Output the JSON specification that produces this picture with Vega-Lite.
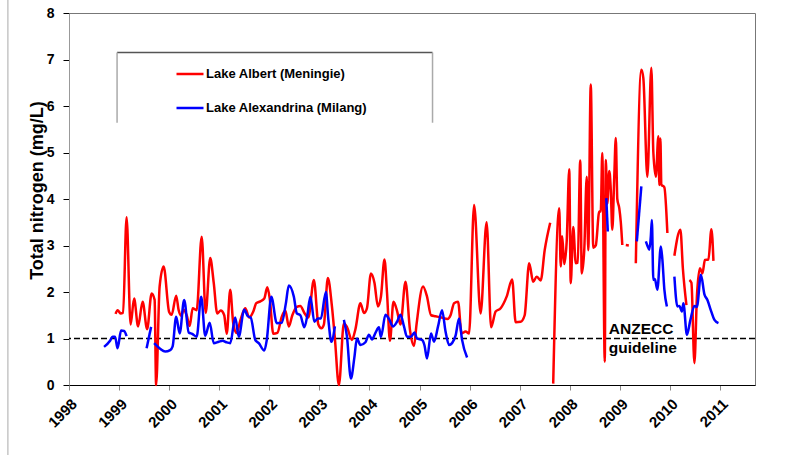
{
  "$schema": "https://vega.github.io/schema/vega-lite/v6.json",
  "width": 686,
  "height": 372,
  "autosize": {"type": "none"},
  "padding": {"left": 69, "top": 13, "right": 52, "bottom": 70},
  "background": "white",
  "config": {
    "view": {"stroke": "#777", "strokeWidth": 1},
    "font": "Liberation Sans"
  },
  "datasets": {
    "albert": [
      {"g":"r1","t":1998.93,"v":1.53},{"g":"r1","t":1998.97,"v":1.61},{"g":"r1","t":1999.03,"v":1.54},{"g":"r1","t":1999.08,"v":1.55},{"g":"r1","t":1999.15,"v":3.61},{"g":"r1","t":1999.23,"v":1.30},{"g":"r1","t":1999.30,"v":1.86},{"g":"r1","t":1999.38,"v":1.26},{"g":"r1","t":1999.47,"v":1.79},{"g":"r1","t":1999.56,"v":1.20},{"g":"r1","t":1999.65,"v":1.97},{"g":"r1","t":1999.71,"v":1.83},{"g":"r1","t":1999.74,"v":0},{"g":"r1","t":1999.81,"v":2.12},{"g":"r1","t":1999.89,"v":2.55},{"g":"r1","t":2000.00,"v":1.57},{"g":"r1","t":2000.05,"v":1.51},{"g":"r1","t":2000.14,"v":1.92},{"g":"r1","t":2000.19,"v":1.61},{"g":"r1","t":2000.24,"v":1.49},{"g":"r1","t":2000.29,"v":1.62},{"g":"r1","t":2000.35,"v":1.50},{"g":"r1","t":2000.41,"v":1.27},{"g":"r1","t":2000.47,"v":1.65},{"g":"r1","t":2000.55,"v":1.61},{"g":"r1","t":2000.65,"v":3.19},{"g":"r1","t":2000.73,"v":1.55},{"g":"r1","t":2000.82,"v":2.73},{"g":"r1","t":2000.89,"v":2.20},{"g":"r1","t":2000.96,"v":1.54},{"g":"r1","t":2001.03,"v":1.60},{"g":"r1","t":2001.10,"v":1.50},{"g":"r1","t":2001.15,"v":1.10},{"g":"r1","t":2001.22,"v":2.05},{"g":"r1","t":2001.28,"v":1.33},{"g":"r1","t":2001.35,"v":1.12},{"g":"r1","t":2001.42,"v":1.38},{"g":"r1","t":2001.52,"v":1.65},{"g":"r1","t":2001.60,"v":1.45},{"g":"r1","t":2001.68,"v":1.58},{"g":"r1","t":2001.74,"v":1.76},{"g":"r1","t":2001.82,"v":1.80},{"g":"r1","t":2001.90,"v":1.86},{"g":"r1","t":2001.96,"v":2.10},{"g":"r1","t":2002.01,"v":1.85},{"g":"r1","t":2002.08,"v":1.10},{"g":"r1","t":2002.16,"v":1.12},{"g":"r1","t":2002.25,"v":1.47},{"g":"r1","t":2002.32,"v":1.60},{"g":"r1","t":2002.39,"v":1.26},{"g":"r1","t":2002.46,"v":1.50},{"g":"r1","t":2002.55,"v":1.68},{"g":"r1","t":2002.62,"v":1.70},{"g":"r1","t":2002.70,"v":1.55},{"g":"r1","t":2002.78,"v":1.45},{"g":"r1","t":2002.89,"v":2.26},{"g":"r1","t":2002.98,"v":1.30},{"g":"r1","t":2003.04,"v":1.22},{"g":"r1","t":2003.09,"v":1.30},{"g":"r1","t":2003.17,"v":2.30},{"g":"r1","t":2003.25,"v":1.70},{"g":"r1","t":2003.31,"v":1.00},{"g":"r1","t":2003.39,"v":0},{"g":"r1","t":2003.49,"v":1.33},{"g":"r1","t":2003.55,"v":1.25},{"g":"r1","t":2003.65,"v":0.97},{"g":"r1","t":2003.72,"v":1.20},{"g":"r1","t":2003.82,"v":1.76},{"g":"r1","t":2003.89,"v":1.55},{"g":"r1","t":2003.95,"v":1.65},{"g":"r1","t":2004.03,"v":2.40},{"g":"r1","t":2004.10,"v":2.20},{"g":"r1","t":2004.17,"v":1.69},{"g":"r1","t":2004.23,"v":1.90},{"g":"r1","t":2004.30,"v":2.70},{"g":"r1","t":2004.35,"v":2.00},{"g":"r1","t":2004.41,"v":0.95},{"g":"r1","t":2004.48,"v":1.79},{"g":"r1","t":2004.55,"v":1.60},{"g":"r1","t":2004.62,"v":1.30},{"g":"r1","t":2004.72,"v":2.22},{"g":"r1","t":2004.81,"v":1.18},{"g":"r1","t":2004.89,"v":0.84},{"g":"r1","t":2004.94,"v":1.30},{"g":"r1","t":2005.07,"v":2.12},{"g":"r1","t":2005.15,"v":1.90},{"g":"r1","t":2005.23,"v":1.50},{"g":"r1","t":2005.32,"v":1.48},{"g":"r1","t":2005.44,"v":1.45},{"g":"r1","t":2005.56,"v":1.42},{"g":"r1","t":2005.62,"v":1.50},{"g":"r1","t":2005.69,"v":1.76},{"g":"r1","t":2005.77,"v":1.79},{"g":"r1","t":2005.84,"v":1.11},{"g":"r1","t":2005.92,"v":1.15},{"g":"r1","t":2005.99,"v":1.11},{"g":"r1","t":2006.09,"v":3.87},{"g":"r1","t":2006.22,"v":1.54},{"g":"r1","t":2006.34,"v":3.50},{"g":"r1","t":2006.43,"v":1.24},{"g":"r1","t":2006.52,"v":1.58},{"g":"r1","t":2006.62,"v":1.65},{"g":"r1","t":2006.74,"v":1.90},{"g":"r1","t":2006.85,"v":2.27},{"g":"r1","t":2006.92,"v":1.35},{"g":"r1","t":2007.02,"v":1.36},{"g":"r1","t":2007.10,"v":1.50},{"g":"r1","t":2007.19,"v":2.62},{"g":"r1","t":2007.27,"v":2.22},{"g":"r1","t":2007.34,"v":2.33},{"g":"r1","t":2007.42,"v":2.25},{"g":"r1","t":2007.50,"v":2.90},{"g":"r1","t":2007.61,"v":3.49},
      {"g":"r2","t":2007.67,"v":0.03},{"g":"r2","t":2007.79,"v":3.80},{"g":"r2","t":2007.82,"v":2.55},{"g":"r2","t":2007.85,"v":3.20},{"g":"r2","t":2007.89,"v":2.60},{"g":"r2","t":2007.94,"v":3.10},{"g":"r2","t":2007.99,"v":4.64},{"g":"r2","t":2008.02,"v":2.19},{"g":"r2","t":2008.07,"v":3.40},{"g":"r2","t":2008.12,"v":2.62},{"g":"r2","t":2008.16,"v":2.63},{"g":"r2","t":2008.21,"v":4.83},{"g":"r2","t":2008.24,"v":2.40},{"g":"r2","t":2008.29,"v":2.90},{"g":"r2","t":2008.34,"v":4.48},{"g":"r2","t":2008.37,"v":2.90},{"g":"r2","t":2008.42,"v":6.46},{"g":"r2","t":2008.47,"v":2.95},{"g":"r2","t":2008.52,"v":3.00},{"g":"r2","t":2008.59,"v":3.73},{"g":"r2","t":2008.62,"v":3.73},{"g":"r2","t":2008.65,"v":4.99},{"g":"r2","t":2008.70,"v":0.50},{"g":"r2","t":2008.72,"v":4.84},{"g":"r2","t":2008.75,"v":3.90},{"g":"r2","t":2008.79,"v":4.60},{"g":"r2","t":2008.82,"v":4.20},{"g":"r2","t":2008.85,"v":3.34},{"g":"r2","t":2008.89,"v":4.50},{"g":"r2","t":2008.92,"v":5.31},{"g":"r2","t":2008.95,"v":4.00},{"g":"r2","t":2008.99,"v":3.80},{"g":"r2","t":2009.02,"v":3.50},{"g":"r2","t":2009.05,"v":3.01},
      {"g":"r3","t":2009.12,"v":3.01},{"g":"r3","t":2009.18,"v":3.00},
      {"g":"r4","t":2009.32,"v":2.62},{"g":"r4","t":2009.43,"v":6.78},{"g":"r4","t":2009.47,"v":6.60},{"g":"r4","t":2009.55,"v":4.48},{"g":"r4","t":2009.63,"v":6.82},{"g":"r4","t":2009.67,"v":5.00},{"g":"r4","t":2009.72,"v":4.48},{"g":"r4","t":2009.77,"v":5.35},{"g":"r4","t":2009.79,"v":4.30},{"g":"r4","t":2009.81,"v":5.30},{"g":"r4","t":2009.83,"v":4.31},{"g":"r4","t":2009.89,"v":4.25},{"g":"r4","t":2009.95,"v":3.27},
      {"g":"r5","t":2010.09,"v":2.78},{"g":"r5","t":2010.21,"v":3.34},{"g":"r5","t":2010.26,"v":2.50},{"g":"r5","t":2010.33,"v":1.72},
      {"g":"r6","t":2010.39,"v":2.26},{"g":"r6","t":2010.43,"v":2.20},{"g":"r6","t":2010.49,"v":0.47},{"g":"r6","t":2010.54,"v":1.90},{"g":"r6","t":2010.60,"v":2.51},{"g":"r6","t":2010.65,"v":2.40},{"g":"r6","t":2010.70,"v":2.69},{"g":"r6","t":2010.77,"v":2.70},{"g":"r6","t":2010.83,"v":3.35},{"g":"r6","t":2010.87,"v":2.67}
    ],
    "alexandrina": [
      {"g":"b1","t":1998.70,"v":0.82},{"g":"b1","t":1998.82,"v":0.95},{"g":"b1","t":1998.87,"v":1.04},{"g":"b1","t":1998.92,"v":1.04},{"g":"b1","t":1998.97,"v":0.79},{"g":"b1","t":1999.04,"v":1.17},{"g":"b1","t":1999.10,"v":1.16},{"g":"b1","t":1999.15,"v":1.05},
      {"g":"b2","t":1999.55,"v":0.79},{"g":"b2","t":1999.64,"v":1.25},
      {"g":"b3","t":1999.70,"v":0.90},{"g":"b3","t":1999.82,"v":0.78},{"g":"b3","t":1999.92,"v":0.72},{"g":"b3","t":2000.02,"v":0.75},{"g":"b3","t":2000.07,"v":0.83},{"g":"b3","t":2000.14,"v":1.47},{"g":"b3","t":2000.21,"v":1.11},{"g":"b3","t":2000.30,"v":1.83},{"g":"b3","t":2000.39,"v":1.13},{"g":"b3","t":2000.46,"v":1.10},{"g":"b3","t":2000.55,"v":1.04},{"g":"b3","t":2000.64,"v":1.90},{"g":"b3","t":2000.72,"v":1.06},{"g":"b3","t":2000.81,"v":1.34},{"g":"b3","t":2000.89,"v":0.90},{"g":"b3","t":2000.99,"v":0.93},{"g":"b3","t":2001.07,"v":0.95},{"g":"b3","t":2001.14,"v":0.92},{"g":"b3","t":2001.22,"v":0.90},{"g":"b3","t":2001.32,"v":1.45},{"g":"b3","t":2001.39,"v":1.04},{"g":"b3","t":2001.50,"v":1.62},{"g":"b3","t":2001.57,"v":1.48},{"g":"b3","t":2001.63,"v":1.45},{"g":"b3","t":2001.72,"v":0.97},{"g":"b3","t":2001.79,"v":0.90},{"g":"b3","t":2001.90,"v":0.74},{"g":"b3","t":2001.95,"v":0.97},{"g":"b3","t":2002.04,"v":1.90},{"g":"b3","t":2002.15,"v":1.33},{"g":"b3","t":2002.25,"v":1.34},{"g":"b3","t":2002.33,"v":1.75},{"g":"b3","t":2002.39,"v":2.14},{"g":"b3","t":2002.49,"v":1.90},{"g":"b3","t":2002.55,"v":1.54},{"g":"b3","t":2002.62,"v":1.50},{"g":"b3","t":2002.70,"v":1.24},{"g":"b3","t":2002.76,"v":1.50},{"g":"b3","t":2002.82,"v":1.90},{"g":"b3","t":2002.90,"v":1.36},{"g":"b3","t":2002.97,"v":1.43},{"g":"b3","t":2003.03,"v":1.43},{"g":"b3","t":2003.13,"v":2.00},{"g":"b3","t":2003.18,"v":1.40},{"g":"b3","t":2003.24,"v":0.93},{"g":"b3","t":2003.31,"v":1.26},
      {"g":"b4","t":2003.49,"v":1.40},{"g":"b4","t":2003.55,"v":1.05},{"g":"b4","t":2003.63,"v":0.14},{"g":"b4","t":2003.70,"v":0.60},{"g":"b4","t":2003.75,"v":1.00},{"g":"b4","t":2003.82,"v":0.86},{"g":"b4","t":2003.92,"v":0.92},{"g":"b4","t":2003.99,"v":1.08},{"g":"b4","t":2004.05,"v":0.98},{"g":"b4","t":2004.12,"v":1.12},{"g":"b4","t":2004.19,"v":1.24},{"g":"b4","t":2004.23,"v":1.03},{"g":"b4","t":2004.32,"v":1.51},{"g":"b4","t":2004.39,"v":1.42},{"g":"b4","t":2004.47,"v":1.26},{"g":"b4","t":2004.55,"v":1.36},{"g":"b4","t":2004.62,"v":1.51},{"g":"b4","t":2004.69,"v":1.26},{"g":"b4","t":2004.75,"v":1.04},{"g":"b4","t":2004.83,"v":1.04},{"g":"b4","t":2004.90,"v":1.13},{"g":"b4","t":2004.95,"v":1.00},{"g":"b4","t":2005.05,"v":0.97},{"g":"b4","t":2005.10,"v":0.85},{"g":"b4","t":2005.15,"v":0.57},{"g":"b4","t":2005.23,"v":1.11},{"g":"b4","t":2005.29,"v":0.93},{"g":"b4","t":2005.37,"v":1.26},{"g":"b4","t":2005.45,"v":1.61},{"g":"b4","t":2005.52,"v":1.15},{"g":"b4","t":2005.59,"v":0.86},{"g":"b4","t":2005.65,"v":0.90},{"g":"b4","t":2005.72,"v":1.06},{"g":"b4","t":2005.79,"v":1.43},{"g":"b4","t":2005.85,"v":0.97},{"g":"b4","t":2005.95,"v":0.59},
      {"g":"b5","t":2008.73,"v":4.02},{"g":"b5","t":2008.76,"v":3.30},
      {"g":"b6","t":2009.34,"v":3.09},{"g":"b6","t":2009.43,"v":4.27},
      {"g":"b7","t":2009.52,"v":3.09},{"g":"b7","t":2009.55,"v":3.00},{"g":"b7","t":2009.59,"v":2.91},{"g":"b7","t":2009.62,"v":3.20},{"g":"b7","t":2009.64,"v":3.55},{"g":"b7","t":2009.67,"v":2.26},{"g":"b7","t":2009.70,"v":2.28},{"g":"b7","t":2009.75,"v":2.05},{"g":"b7","t":2009.82,"v":2.98},{"g":"b7","t":2009.85,"v":2.70},{"g":"b7","t":2009.89,"v":2.05},{"g":"b7","t":2009.94,"v":1.69},
      {"g":"b8","t":2010.09,"v":2.33},{"g":"b8","t":2010.15,"v":1.69},{"g":"b8","t":2010.19,"v":1.70},{"g":"b8","t":2010.24,"v":1.58},{"g":"b8","t":2010.27,"v":1.76},{"g":"b8","t":2010.34,"v":1.08},{"g":"b8","t":2010.41,"v":1.40},{"g":"b8","t":2010.49,"v":1.70},{"g":"b8","t":2010.54,"v":1.68},{"g":"b8","t":2010.62,"v":2.37},{"g":"b8","t":2010.69,"v":1.95},{"g":"b8","t":2010.75,"v":1.83},{"g":"b8","t":2010.82,"v":1.60},{"g":"b8","t":2010.89,"v":1.40},{"g":"b8","t":2010.97,"v":1.33}
    ],
    "guideline": [{"v": 1}],
    "notes": [
      {"t": 2008.78, "v": 1.21, "label": "ANZECC"},
      {"t": 2008.78, "v": 0.80, "label": "guideline"}
    ],
    "boxTop": [{"t": 1998.96, "t2": 2005.26, "v": 7.15}],
    "boxSides": [{"t": 1998.96, "v": 7.15, "v2": 5.64}, {"t": 2005.26, "v": 7.15, "v2": 5.64}],
    "leftEdge": [{"t": 1996.78, "v": 8.29, "v2": -1.51}]
  },
  "layer": [
    {
      "data": {"name": "leftEdge"},
      "mark": {"type": "rule", "color": "#aaaaaa", "strokeWidth": 1, "clip": false},
      "encoding": {
        "x": {"field": "t", "type": "quantitative"},
        "y": {"field": "v", "type": "quantitative"},
        "y2": {"field": "v2"}
      }
    },
    {
      "data": {"name": "boxTop"},
      "mark": {"type": "rule", "color": "#555555", "strokeWidth": 1.5},
      "encoding": {
        "x": {"field": "t", "type": "quantitative"},
        "x2": {"field": "t2"},
        "y": {"field": "v", "type": "quantitative"}
      }
    },
    {
      "data": {"name": "boxSides"},
      "mark": {"type": "rule", "color": "#aaaaaa", "strokeWidth": 1.5},
      "encoding": {
        "x": {"field": "t", "type": "quantitative"},
        "y": {"field": "v", "type": "quantitative"},
        "y2": {"field": "v2"}
      }
    },
    {
      "data": {"name": "guideline"},
      "mark": {"type": "rule", "color": "black", "strokeWidth": 1.5, "strokeDash": [6, 3]},
      "encoding": {"y": {"field": "v", "type": "quantitative"}}
    },
    {
      "data": {"name": "albert"},
      "mark": {"type": "line", "strokeWidth": 2.5, "interpolate": "monotone"},
      "encoding": {
        "x": {
          "field": "t", "type": "quantitative",
          "scale": {"domain": [1998, 2011.7], "nice": false, "zero": false},
          "axis": {
            "title": null,
            "values": [1998,1999,2000,2001,2002,2003,2004,2005,2006,2007,2008,2009,2010,2011],
            "format": "d",
            "labelAngle": -45,
            "labelFont": "Liberation Sans",
            "labelFontWeight": "bold",
            "labelFontSize": 15,
            "labelColor": "black",
            "labelPadding": 6,
            "tickSize": 5,
            "tickColor": "#888888",
            "domainColor": "black",
            "domainWidth": 1,
            "grid": false
          }
        },
        "y": {
          "field": "v", "type": "quantitative",
          "scale": {"domain": [0, 8], "nice": false},
          "axis": {
            "title": "Total nitrogen (mg/L)",
            "titleFont": "Liberation Sans",
            "titleFontWeight": "bold",
            "titleFontSize": 18,
            "titleColor": "black",
            "titleX": -27,
            "titleY": 177,
            "titleBaseline": "alphabetic",
            "values": [0,1,2,3,4,5,6,7,8],
            "labelFont": "Liberation Sans",
            "labelFontWeight": "bold",
            "labelFontSize": 14,
            "labelColor": "black",
            "labelPadding": 9,
            "tickSize": 6,
            "tickColor": "black",
            "domainColor": "#999999",
            "grid": false
          }
        },
        "detail": {"field": "g"},
        "color": {
          "datum": "Lake Albert (Meningie)",
          "type": "nominal",
          "scale": {
            "domain": ["Lake Albert (Meningie)", "Lake Alexandrina (Milang)"],
            "range": ["#ff0000", "#0000ff"]
          },
          "legend": {
            "title": null,
            "orient": "none",
            "legendX": 106,
            "legendY": 46,
            "direction": "vertical",
            "symbolType": "stroke",
            "symbolSize": 729,
            "symbolStrokeWidth": 2.5,
            "labelFont": "Liberation Sans",
            "labelFontWeight": "bold",
            "labelFontSize": 13,
            "labelColor": "black",
            "labelLimit": 0,
            "labelOffset": 1,
            "rowPadding": 12,
            "padding": 0
          }
        }
      }
    },
    {
      "data": {"name": "alexandrina"},
      "mark": {"type": "line", "strokeWidth": 2.5, "interpolate": "monotone"},
      "encoding": {
        "x": {"field": "t", "type": "quantitative"},
        "y": {"field": "v", "type": "quantitative"},
        "detail": {"field": "g"},
        "color": {"datum": "Lake Alexandrina (Milang)", "type": "nominal"}
      }
    },
    {
      "data": {"name": "notes"},
      "mark": {"type": "text", "align": "left", "baseline": "middle", "font": "Liberation Sans", "fontWeight": "bold", "fontSize": 15.5, "color": "black"},
      "encoding": {
        "x": {"field": "t", "type": "quantitative"},
        "y": {"field": "v", "type": "quantitative"},
        "text": {"field": "label"}
      }
    }
  ]
}
